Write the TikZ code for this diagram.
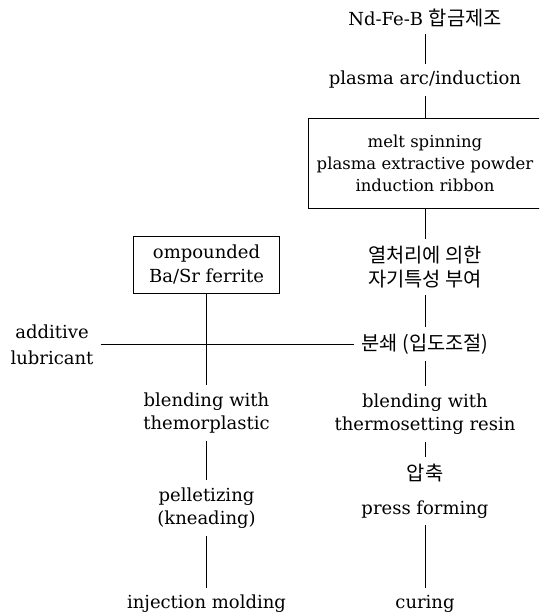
\documentclass[tikz,border=0pt]{standalone}
\usepackage{fontspec}
\setmainfont{DejaVu Serif}
\newfontfamily\kr[Scale=1.1]{Noto Sans CJK KR}
\usetikzlibrary{positioning}

\begin{document}
\begin{tikzpicture}[x=1pt,y=-1pt,
  stage/.style={align=center,inner sep=2pt,font=\fontsize{18}{23.5}\selectfont},
  boxstage/.style={stage,draw,line width=0.8pt},
  link/.style={draw,line width=0.9pt,shorten <=5pt,shorten >=5pt}]
  \clip (0,0) rectangle (539,612);
  % right branch: Nd-Fe-B
  \node[stage] (alloy) at (425,18) {Nd-Fe-B {\kr 합금제조}};
  \node[stage] (arc) at (425,80) {plasma arc/induction};
  \node[boxstage,minimum width=234,minimum height=90,font=\fontsize{16.5}{22}\selectfont] (spin) at (425,163)
    {melt spinning\\plasma extractive powder\\induction ribbon};
  \node[stage] (heat) at (425,267) {{\kr 열처리에 의한}\\[1pt]{\kr 자기특성 부여}};
  \node[stage] (crush) at (425,344) {{\kr 분쇄 (입도조절)}};
  \node[stage] (blendR) at (425,414) {blending with\\thermosetting resin};
  \node[stage] (press) at (425,491) {{\kr 압축}\\[10.5pt]press forming};
  \node[stage] (cure) at (425,604) {curing};
  % left branch: ferrite
  \node[boxstage,minimum width=146,minimum height=57] (ferrite) at (206.5,264.5)
    {ompounded\\Ba/Sr ferrite};
  \node[stage] (additive) at (52,345) {additive\\[2pt]lubricant};
  \node[stage] (blendL) at (206.5,413) {blending with\\themorplastic};
  \node[stage] (pellet) at (206.5,508) {pelletizing\\(kneading)};
  \node[stage] (inject) at (206.5,604) {injection molding};
  % connectors
  \draw[link] (alloy) -- (arc);
  \draw[link,shorten >=0pt] (arc) -- (spin);
  \draw[link,shorten <=0pt] (spin) -- (heat);
  \draw[link] (heat) -- (crush);
  \draw[link] (crush) -- (blendR);
  \draw[link] (blendR) -- (press);
  \draw[link] (press) -- (cure);
  \draw[link,shorten <=0pt] (ferrite) -- (blendL);
  \draw[link] (additive.east |- crush) -- (crush);
  \draw[link] (blendL) -- (pellet);
  \draw[link] (pellet) -- (inject);
\end{tikzpicture}
\end{document}
